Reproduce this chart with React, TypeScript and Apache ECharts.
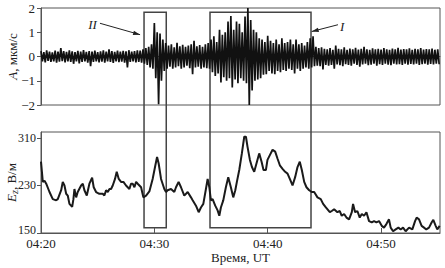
import React, { useEffect, useRef } from "react";
import * as echarts from "echarts";

// ---------- data ----------
const xTickMinutes = [0, 10, 20, 30]; // minutes after 04:20
const xTickLabels = ["04:20", "04:30", "04:40", "04:50"];
const ampTicks = [-2, -1, 0, 1, 2];
const ezTicks = [150, 230, 310];

// Seismic trace envelope (A, мкм/с) sampled every 0.25 min from 04:20
const seisStep = 0.25;
const seisHi = [
  0.22, 0.18, 0.25, 0.2, 0.17, 0.24, 0.2, 0.35, 0.22, 0.19,
  0.25, 0.21, 0.18, 0.23, 0.2, 0.26, 0.19, 0.22, 0.2, 0.24,
  0.18, 0.21, 0.25, 0.2, 0.3, 0.22, 0.19, 0.24, 0.2, 0.23,
  0.21, 0.26, 0.2, 0.22, 0.25, 0.24,
  0.3, 0.35, 0.4, 0.5, 1.38, 1.0, 0.95, 0.7, 0.55,
  0.45, 0.5, 0.38, 0.57, 0.42, 0.48, 0.4, 0.45, 0.5, 0.65, 0.42, 0.47, 0.4, 0.5,
  0.55, 0.7, 0.83, 0.6, 1.1, 0.9, 1.0, 1.44, 1.67, 1.1, 1.44, 1.35, 1.0, 1.65, 2.0,
  1.5, 1.1, 1.0, 0.75, 0.7, 0.6, 0.85, 0.65, 0.55, 0.7, 0.5, 0.75, 0.55, 0.6, 0.7,
  0.5, 0.7, 0.5, 0.55, 0.45, 0.6, 0.75, 0.83, 0.4, 0.35, 0.38, 0.32,
  0.3, 0.35, 0.28, 0.45, 0.32, 0.3, 0.38, 0.28, 0.33, 0.3,
  0.36, 0.29, 0.32, 0.4, 0.3, 0.28, 0.34, 0.3, 0.32, 0.29,
  0.35, 0.3, 0.28, 0.33, 0.3, 0.36, 0.29, 0.31, 0.3, 0.34,
  0.28, 0.32, 0.3, 0.35, 0.29, 0.31, 0.3, 0.33, 0.28, 0.3,
];
const seisLo = [
  -0.2, -0.24, -0.18, -0.22, -0.2, -0.25, -0.21, -0.19, -0.24, -0.2,
  -0.22, -0.3, -0.2, -0.28, -0.22, -0.2, -0.25, -0.4, -0.22, -0.2,
  -0.24, -0.21, -0.25, -0.2, -0.22, -0.26, -0.2, -0.23, -0.21, -0.25,
  -0.45, -0.22, -0.2, -0.24, -0.22, -0.25,
  -0.3, -0.35, -0.45, -0.5, -0.9, -1.97, -1.0, -0.6, -0.5,
  -0.42, -0.5, -0.45, -0.4, -0.5, -0.45, -0.38, -0.48, -0.73, -0.45, -0.42, -0.5, -0.45, -0.48,
  -0.5, -0.65, -0.8, -0.7, -1.07, -0.85, -1.0, -0.9, -1.28, -0.95, -1.1, -0.9, -1.0, -1.1, -2.0,
  -1.4, -1.0, -0.95, -0.9, -0.75, -0.73, -0.6, -0.7, -0.73, -0.6, -0.65, -0.55, -0.6, -0.5, -0.55,
  -0.7, -0.5, -0.6, -0.5, -0.45, -0.5, -0.45, -0.4, -0.38, -0.4, -0.53, -0.35,
  -0.38, -0.35, -0.5, -0.33, -0.36, -0.4, -0.32, -0.35, -0.38, -0.3,
  -0.35, -0.42, -0.33, -0.3, -0.36, -0.34, -0.3, -0.38, -0.32, -0.35,
  -0.3, -0.34, -0.36, -0.3, -0.33, -0.32, -0.35, -0.3, -0.34, -0.31,
  -0.33, -0.3, -0.35, -0.32, -0.3, -0.34, -0.31, -0.33, -0.3, -0.32,
];

// Electric field Ez (В/м): minutes after 04:20 and value
const ezMinutes = [
  0.0, 0.16, 0.31, 0.46, 0.75, 1.04, 1.34, 1.48, 1.78, 1.92, 2.07, 2.22, 2.36, 2.51, 2.75, 2.86, 2.95,
  3.1, 3.24, 3.54, 3.69, 3.83, 4.04, 4.27, 4.51, 4.65, 4.86, 5.15, 5.45, 5.59, 5.74, 5.89, 6.04, 6.18,
  6.33, 6.53, 6.68, 6.86, 7.06, 7.27, 7.5, 7.65, 7.8, 7.94, 8.09, 8.24, 8.39, 8.53, 8.68, 8.83, 9.03,
  9.27, 9.56, 9.85, 10.09, 10.24, 10.38, 10.59, 10.88, 11.03, 11.17, 11.47, 11.76, 11.91, 12.14, 12.35,
  12.64, 12.94, 13.23, 13.38, 13.67, 13.91, 14.11, 14.32, 14.55, 14.7, 14.85, 14.99, 15.14, 15.37,
  15.58, 15.73, 15.87, 16.08, 16.31, 16.52, 16.75, 16.96, 17.14, 17.28, 17.49, 17.72, 17.93, 18.08,
  18.22, 18.43, 18.61, 18.81, 19.05, 19.25, 19.46, 19.63, 19.84, 19.98, 20.19, 20.43, 20.66, 20.87,
  21.07, 21.31, 21.54, 21.75, 21.98, 22.19, 22.42, 22.63, 22.83, 23.01, 23.22, 23.42, 23.66, 23.89,
  24.1, 24.39, 24.68, 24.89, 25.13, 25.48, 25.65, 25.86, 26.15, 26.36, 26.53, 26.74, 26.95, 27.18,
  27.42, 27.53, 27.71, 27.91, 28.12, 28.3, 28.5, 28.71, 28.94, 29.18, 29.38, 29.59, 29.82, 30.06,
  30.26, 30.47, 30.7, 30.85, 31.06, 31.29, 31.53, 31.73, 31.94, 32.17, 32.47, 32.76, 33.0, 33.14,
  33.35, 33.58, 33.79, 33.99, 34.23, 34.47, 34.61, 34.82, 34.96, 35.17,
];
const ezValues = [
  270, 236, 238, 233, 219, 207, 205, 207, 222, 236, 230, 216, 213, 199, 194, 207, 224,
  210, 219, 230, 233, 222, 213, 233, 243, 227, 219, 216, 216, 213, 222, 219, 224, 224,
  230, 241, 253, 241, 236, 236, 230, 227, 224, 233, 233, 227, 236, 233, 230, 227, 210,
  213, 220, 241, 264, 278, 267, 241, 224, 219, 222, 224, 219, 227, 236, 227,
  213, 219, 210, 205, 196, 185, 193, 199, 224, 241, 227, 205, 207, 196,
  188, 179, 193, 205, 227, 244, 227, 210, 222, 236, 256, 284, 312, 312,
  295, 273, 261, 253, 270, 284, 270, 256, 256, 273, 281, 290, 287, 275,
  264, 258, 253, 250, 240, 230, 244, 261, 270, 256, 236, 227, 222, 219,
  219, 210, 207, 199, 193, 185, 187, 190, 185, 187, 179, 182, 176, 173,
  185, 199, 185, 187, 176, 182, 179, 185, 170, 168, 170, 168, 170, 162,
  159, 165, 173, 159, 153, 156, 159, 156, 159, 153, 159, 156, 170, 176,
  173, 162, 159, 156, 159, 168, 172, 162, 156, 162,
];

// Annotation boxes (minutes), spanning from top panel value to bottom panel value
const boxes = [
  { label: "II", from: 9.09, to: 11.05 },
  { label: "I", from: 14.91, to: 23.82 },
];
const boxTopAmp = 1.82;
const boxBottomEz = 158.8;
const arrows = [
  { label: "II", text: [4.55, 1.33], from: [5.2, 1.37], to: [8.74, 0.9] },
  { label: "I", text: [26.56, 1.24], from: [26.2, 1.31], to: [23.88, 1.03] },
];

const FONT = '"Liberation Serif", "Times New Roman", serif';
const AXIS_COLOR = "#555";
const TEXT_COLOR = "#222";

export default function App() {
  const ref = useRef<HTMLDivElement>(null);

  useEffect(() => {
    if (!ref.current) return;
    const chart = echarts.init(ref.current, undefined, { renderer: "svg" });

    const seisData: number[][] = [];
    seisHi.forEach((h, i) => {
      const t = i * seisStep;
      seisData.push([t, h]);
      seisData.push([t + seisStep / 2, seisLo[i]]);
    });
    const ezData = ezMinutes.map((t, i) => [t, ezValues[i]]);

    const minus = (v: number) => String(v).replace("-", "\u2212");

    const baseX = {
      type: "value",
      min: 0,
      max: 35.2,
      splitLine: { show: false },
      axisLine: { show: true, lineStyle: { color: AXIS_COLOR, width: 1 } },
      axisTick: {
        show: true,
        inside: true,
        length: 5,
        customValues: [10, 20, 30],
        lineStyle: { color: AXIS_COLOR },
      },
    };

    const gridBase = {
      left: 41,
      right: 5,
      show: true,
      borderColor: AXIS_COLOR,
      borderWidth: 1,
      containLabel: false,
      outerBoundsMode: "none",
    };

    const option: any = {
      animation: false,
      backgroundColor: "#fff",
      textStyle: { fontFamily: FONT },
      grid: [
        { ...gridBase, top: 8, height: 97 },
        { ...gridBase, top: 132, height: 101 },
      ],
      xAxis: [
        { ...baseX, gridIndex: 0, axisLabel: { show: false } },
        {
          ...baseX,
          gridIndex: 1,
          axisLabel: {
            show: true,
            customValues: xTickMinutes,
            margin: 4,
            fontFamily: FONT,
            fontSize: 13,
            color: TEXT_COLOR,
            formatter: (v: number) => {
              const i = xTickMinutes.indexOf(Math.round(v));
              return i >= 0 ? xTickLabels[i] : "";
            },
          },
          name: "Время, UT",
          nameLocation: "middle",
          nameGap: 18,
          nameMoveOverlap: false,
          nameTextStyle: { fontFamily: FONT, fontSize: 13, color: TEXT_COLOR },
        },
      ],
      yAxis: [
        {
          type: "value",
          gridIndex: 0,
          min: ampTicks[0],
          max: ampTicks[ampTicks.length - 1],
          interval: 1,
          splitLine: { show: false },
          axisLine: { show: true, lineStyle: { color: AXIS_COLOR } },
          axisTick: { show: true, length: 4, lineStyle: { color: AXIS_COLOR } },
          axisLabel: { margin: 6, fontFamily: FONT, fontSize: 13, color: TEXT_COLOR, formatter: minus },
          name: "{i|A}, мкм/с",
          nameLocation: "middle",
          nameGap: 22,
          nameMoveOverlap: false,
          nameTextStyle: {
            fontFamily: FONT,
            fontSize: 13,
            color: TEXT_COLOR,
            rich: { i: { fontStyle: "italic", fontFamily: FONT, fontSize: 13, color: TEXT_COLOR } },
          },
        },
        {
          type: "value",
          gridIndex: 1,
          min: 150,
          max: 320,
          splitLine: { show: false },
          axisLine: { show: true, lineStyle: { color: AXIS_COLOR } },
          axisTick: { show: true, length: 4, customValues: ezTicks, lineStyle: { color: AXIS_COLOR } },
          axisLabel: {
            customValues: ezTicks,
            margin: 5,
            fontFamily: FONT,
            fontSize: 12,
            color: TEXT_COLOR,
            formatter: (v: number) => (v === ezTicks[0] ? "{lo|" + v + "}" : String(v)),
            rich: {
              lo: { fontFamily: FONT, fontSize: 12, color: TEXT_COLOR, padding: [0, 0, 6, 0] },
            },
          },
          name: "{i|E}{s|z}, В/м",
          nameLocation: "middle",
          nameGap: 22,
          nameMoveOverlap: false,
          nameTextStyle: {
            fontFamily: FONT,
            fontSize: 13,
            lineHeight: 16,
            color: TEXT_COLOR,
            rich: {
              i: { fontStyle: "italic", fontFamily: FONT, fontSize: 13, lineHeight: 16, color: TEXT_COLOR },
              s: { fontStyle: "italic", fontFamily: FONT, fontSize: 10, lineHeight: 10, verticalAlign: "bottom", color: TEXT_COLOR },
            },
          },
        },
      ],
      series: [
        {
          type: "line",
          xAxisIndex: 0,
          yAxisIndex: 0,
          data: seisData,
          showSymbol: false,
          lineStyle: { color: "#111", width: 1.7 },
        },
        {
          type: "line",
          xAxisIndex: 1,
          yAxisIndex: 1,
          data: ezData,
          showSymbol: false,
          lineStyle: { color: "#1a1a1a", width: 2 },
        },
      ],
    };

    chart.setOption(option);

    const toPx = (grid: number, pt: number[]) =>
      chart.convertToPixel({ gridIndex: grid } as any, pt) as unknown as number[];

    const g: any[] = [];
    boxes.forEach((b) => {
      const [x1, y1] = toPx(0, [b.from, boxTopAmp]);
      const [x2] = toPx(0, [b.to, boxTopAmp]);
      const [, y2] = toPx(1, [b.from, boxBottomEz]);
      g.push({
        type: "rect",
        silent: true,
        shape: { x: x1, y: y1, width: x2 - x1, height: y2 - y1 },
        style: { fill: "none", stroke: "#444", lineWidth: 1.5 },
      });
    });
    arrows.forEach((a) => {
      const [tx, ty] = toPx(0, a.text);
      const [fx, fy] = toPx(0, a.from);
      const [hx, hy] = toPx(0, a.to);
      g.push({
        type: "text",
        x: tx,
        y: ty,
        style: {
          text: a.label,
          fontFamily: FONT,
          fontSize: 13,
          fontStyle: "italic",
          fill: TEXT_COLOR,
          align: "center",
          verticalAlign: "middle",
          textAlign: "center",
          textVerticalAlign: "middle",
        },
      });
      g.push({
        type: "line",
        shape: { x1: fx, y1: fy, x2: hx, y2: hy },
        style: { stroke: TEXT_COLOR, lineWidth: 1 },
      });
      const ang = Math.atan2(hy - fy, hx - fx);
      const L = 7;
      const W = 2.2;
      const bx = hx - L * Math.cos(ang);
      const by = hy - L * Math.sin(ang);
      g.push({
        type: "polygon",
        shape: {
          points: [
            [hx, hy],
            [bx - W * Math.sin(ang), by + W * Math.cos(ang)],
            [bx + W * Math.sin(ang), by - W * Math.cos(ang)],
          ],
        },
        style: { fill: TEXT_COLOR },
      });
    });
    chart.setOption({ graphic: g });

    return () => chart.dispose();
  }, []);

  return (
    <div
      ref={ref}
      style={{ position: "fixed", left: 0, top: 0, width: 445, height: 268, background: "#fff" }}
    />
  );
}
